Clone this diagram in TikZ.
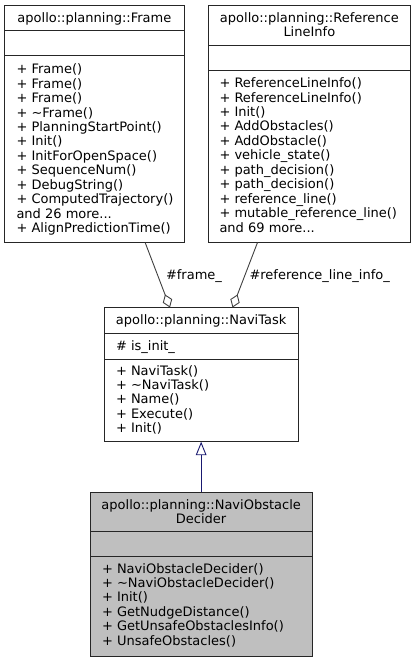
\documentclass[tikz,border=0pt]{standalone}
\usepackage{fontspec}
\setmainfont{DejaVu Sans}
\usetikzlibrary{arrows.meta,calc}
\definecolor{edgegray}{HTML}{404040}
\definecolor{nodefill}{HTML}{BFBFBF}
\definecolor{inhblue}{HTML}{191970}
\newcommand\mline[4]{\node[memtext] (#1) at (#2,#3) {#4};}
\begin{document}
\begin{tikzpicture}[x=1pt,y=-1pt,
  every node/.style={font=\fontsize{13pt}{14.4pt}\selectfont, inner sep=0pt, outer sep=0pt},
  classbox/.style={draw=black!85, line width=0.9pt, fill=white, anchor=north west, rectangle},
  memtext/.style={anchor=base west},
  titletext/.style={anchor=base},
  divider/.style={draw=black!85, line width=0.9pt},
  usage/.style={draw=edgegray, line width=0.9pt, -{Diamond[open, length=14pt, width=10pt]}},
  inherit/.style={draw=inhblue, line width=0.9pt, -{Triangle[open, length=13.5pt, width=10.7pt]}},
  edgelabel/.style={anchor=base west}]
\useasboundingbox (0,0) rectangle (415,663);

% ---------- Frame ----------
\node[classbox, minimum width=179.3pt, minimum height=237.4pt] (frame) at (4.7,5.3) {};
\path[divider] ($(frame.north west)+(0,25.5)$) -- ($(frame.north east)+(0,25.5)$);
\path[divider] ($(frame.north west)+(0,50.5)$) -- ($(frame.north east)+(0,50.5)$);
\node[titletext] (frame-title) at ($(frame.north)+(0,17)$) {apollo::planning::Frame};
\mline{frame-1}{16.5}{74}{+ Frame()}
\mline{frame-2}{16.5}{88.4}{+ Frame()}
\mline{frame-3}{16.5}{102.8}{+ Frame()}
\mline{frame-4}{16.5}{117.2}{+ \textasciitilde{}Frame()}
\mline{frame-5}{16.5}{131.6}{+ PlanningStartPoint()}
\mline{frame-6}{16.5}{146}{+ Init()}
\mline{frame-7}{16.5}{160.4}{+ InitForOpenSpace()}
\mline{frame-8}{16.5}{174.8}{+ SequenceNum()}
\mline{frame-9}{16.5}{189.2}{+ DebugString()}
\mline{frame-10}{16.5}{203.6}{+ ComputedTrajectory()}
\mline{frame-11}{16.5}{218.5}{and 26 more...}
\mline{frame-12}{16.5}{232.6}{+ AlignPredictionTime()}

% ---------- ReferenceLineInfo ----------
\node[classbox, minimum width=202.7pt, minimum height=237.2pt] (ref) at (208,5.3) {};
\path[divider] ($(ref.north west)+(0,40.2)$) -- ($(ref.north east)+(0,40.2)$);
\path[divider] ($(ref.north west)+(0,65.5)$) -- ($(ref.north east)+(0,65.5)$);
\node[titletext] (ref-title1) at ($(ref.north)+(0,17)$) {apollo::planning::Reference};
\node[titletext] (ref-title2) at ($(ref.north)+(0,31.3)$) {LineInfo};
\mline{ref-1}{219.5}{87.8}{+ ReferenceLineInfo()}
\mline{ref-2}{219.5}{102.2}{+ ReferenceLineInfo()}
\mline{ref-3}{219.5}{116.6}{+ Init()}
\mline{ref-4}{219.5}{131}{+ AddObstacles()}
\mline{ref-5}{219.5}{145.4}{+ AddObstacle()}
\mline{ref-6}{219.5}{159.8}{+ vehicle\_state()}
\mline{ref-7}{219.5}{174.2}{+ path\_decision()}
\mline{ref-8}{219.5}{188.6}{+ path\_decision()}
\mline{ref-9}{219.5}{203}{+ reference\_line()}
\mline{ref-10}{219.5}{217.6}{+ mutable\_reference\_line()}
\mline{ref-11}{219.5}{232.6}{and 69 more...}

% ---------- NaviTask ----------
\node[classbox, minimum width=194.3pt, minimum height=134.2pt] (navi) at (104,307.5) {};
\path[divider] ($(navi.north west)+(0,25.5)$) -- ($(navi.north east)+(0,25.5)$);
\path[divider] ($(navi.north west)+(0,51.5)$) -- ($(navi.north east)+(0,51.5)$);
\node[titletext] (navi-title) at ($(navi.north)+(0,16.5)$) {apollo::planning::NaviTask};
\mline{navi-attr}{116}{350}{\# is\_init\_}
\mline{navi-1}{116}{375}{+ NaviTask()}
\mline{navi-2}{116}{389.4}{+ \textasciitilde{}NaviTask()}
\mline{navi-3}{116}{403.8}{+ Name()}
\mline{navi-4}{116}{418.2}{+ Execute()}
\mline{navi-5}{116}{432.6}{+ Init()}

% ---------- NaviObstacleDecider ----------
\node[classbox, fill=nodefill, minimum width=222.3pt, minimum height=164.4pt] (nod) at (90,492.3) {};
\path[divider] ($(nod.north west)+(0,39.4)$) -- ($(nod.north east)+(0,39.4)$);
\path[divider] ($(nod.north west)+(0,64.4)$) -- ($(nod.north east)+(0,64.4)$);
\node[titletext] (nod-title1) at ($(nod.north)+(0,17.2)$) {apollo::planning::NaviObstacle};
\node[titletext] (nod-title2) at ($(nod.north)+(0,31.4)$) {Decider};
\mline{nod-1}{102}{573}{+ NaviObstacleDecider()}
\mline{nod-2}{102}{587.4}{+ \textasciitilde{}NaviObstacleDecider()}
\mline{nod-3}{102}{601.8}{+ Init()}
\mline{nod-4}{102}{616.2}{+ GetNudgeDistance()}
\mline{nod-5}{102}{630.6}{+ GetUnsafeObstaclesInfo()}
\mline{nod-6}{102}{645}{+ UnsafeObstacles()}

% ---------- connectors ----------
\coordinate (frame-out) at ($(frame.south west)+(140.5,0)$);
\coordinate (navi-in1) at ($(navi.north west)+(66,0)$);
\coordinate (ref-out) at ($(ref.south west)+(49.5,0)$);
\coordinate (navi-in2) at ($(navi.north west)+(128.5,0)$);
\draw[usage] (frame-out) -- (navi-in1);
\draw[usage] (ref-out) -- (navi-in2);
\node[edgelabel] (lbl-frame) at (166,279.5) {\#frame\_};
\node[edgelabel] (lbl-ref) at (249.5,279.5) {\#reference\_line\_info\_};
\draw[inherit] (nod.north) -- (navi.south);
\end{tikzpicture}
\end{document}
